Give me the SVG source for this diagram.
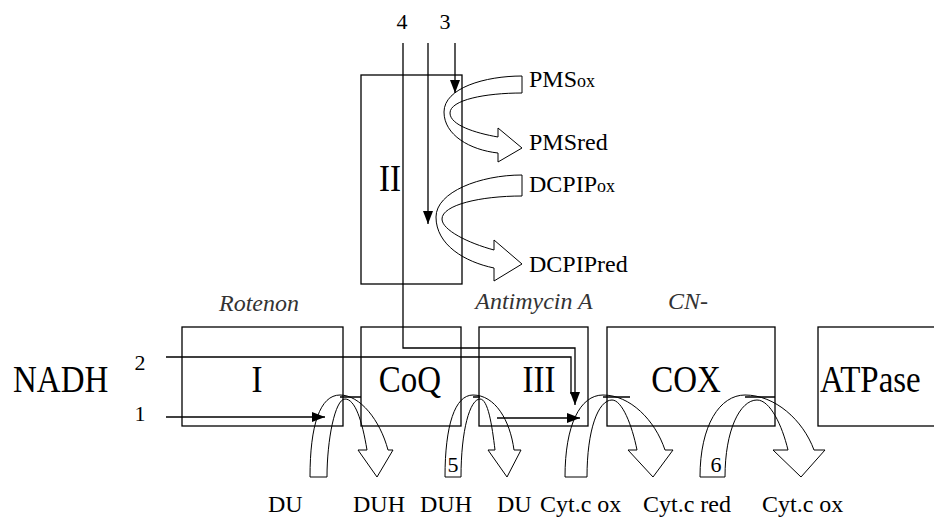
<svg xmlns="http://www.w3.org/2000/svg" width="934" height="518" viewBox="0 0 934 518">
<style>
text{font-family:"Liberation Serif","Noto Serif","DejaVu Serif",FreeSerif,"Nimbus Roman","Nimbus Roman No9 L",Times,Georgia,serif;fill:#000}
.big{font-size:33px}
.c{text-anchor:middle}
.lab{font-size:24px}
.sm{font-size:22px}
.it{font-size:24px;font-style:italic;fill:#333}
.box{fill:none;stroke:#000;stroke-width:1.3}
.ln{fill:none;stroke:#000;stroke-width:1.3}
.blk{fill:none;stroke:#000;stroke-width:1}
.sub{font-size:18px}
</style>
<defs>
<marker id="ah" markerUnits="userSpaceOnUse" markerWidth="13" markerHeight="10" refX="13" refY="5" orient="auto">
<path d="M0,0 L13,5 L0,10 z" fill="#000"/>
</marker>
</defs>
<rect width="934" height="518" fill="#fff"/>

<g id="nadh"><text class="big" transform="translate(13,392) scale(1,1.12)">NADH</text></g>
<g id="complexI"><rect class="box" x="182" y="327" width="161" height="99"/><text class="big c" transform="translate(257,392) scale(1,1.12)">I</text></g>
<g id="coq"><rect class="box" x="361" y="327" width="100" height="99"/><text class="big c" transform="translate(410,392) scale(1,1.12)">CoQ</text></g>
<g id="complexIII"><rect class="box" x="479" y="327" width="109" height="99"/><text class="big c" transform="translate(539,392) scale(1,1.12)">III</text></g>
<g id="cox"><rect class="box" x="607" y="327" width="168" height="99"/><text class="big c" transform="translate(686,392) scale(1,1.12)">COX</text></g>
<g id="atpase"><rect class="box" x="818" y="327" width="130" height="99"/><text class="big" transform="translate(820,392) scale(1,1.12)">ATPase</text></g>
<g id="complexII"><rect class="box" x="361" y="75" width="101" height="209"/><text class="big c" transform="translate(390,191) scale(1,1.12)">II</text></g>

<g id="inhibitors">
<text class="it c" x="259" y="311">Rotenon</text>
<text class="it c" x="534" y="309">Antimycin A</text>
<text class="it c" x="688" y="309">CN-</text>
</g>

<g id="acceptors">
<text class="lab" x="529" y="87">PMS<tspan class="sub">ox</tspan></text>
<text class="lab" x="529" y="150">PMSred</text>
<text class="lab" x="529" y="192">DCPIP<tspan class="sub">ox</tspan></text>
<text class="lab" x="529" y="272">DCPIPred</text>
</g>

<g id="bottom-labels">
<text class="lab" x="268" y="512">DU</text>
<text class="lab" x="353" y="512">DUH</text>
<text class="lab" x="420" y="512">DUH</text>
<text class="lab" x="497" y="512">DU</text>
<text class="lab" x="540" y="512">Cyt.c ox</text>
<text class="lab" x="643" y="512">Cyt.c red</text>
<text class="lab" x="762" y="512">Cyt.c ox</text>
</g>

<g id="path-labels">
<text class="sm c" x="402" y="29">4</text>
<text class="sm c" x="445" y="29">3</text>
<text class="sm c" x="140" y="370">2</text>
<text class="sm c" x="140" y="421">1</text>
<text class="sm c" x="453" y="472">5</text>
<text class="sm c" x="716" y="472">6</text>
</g>

<g id="connectors">
<path class="ln" d="M403,43 V348 H575 V405" marker-end="url(#ah)"/>
<path class="ln" d="M166,357 H571 V394"/>
<path class="ln" d="M166,417 H325" marker-end="url(#ah)"/>
<path class="ln" d="M428,43 V224" marker-end="url(#ah)"/>
<path class="ln" d="M455,43 V93" marker-end="url(#ah)"/>
<path class="ln" d="M497,418 H580" marker-end="url(#ah)"/>
<path class="ln" d="M340,397 H361 M473,397 H480 M603,397 H630 M745,397 H775"/>
<path class="blk" d="M522,76 C485,76 444,88 444,112 C444,135 470,150 498,153 L498,162 L522,148 L498,128 L498,137 C475,133 450,125 450,113 C450,100 485,93 522,93 Z"/>
<path class="blk" d="M522,175 C480,175 436,192 436,217 C436,245 465,262 494,268 L494,281 L522,264 L494,240 L494,250 C468,243 442,230 442,219 C442,205 480,196 522,196 Z"/>
<path class="blk" d="M310,477 C310,425 320,395 340,395 C360,395 380,420 388,450 L393,450 L377,477 L358,450 L367,450 C362,420 355,399 345,399 C335,399 327,440 327,477 Z"/>
<path class="blk" d="M445,477 C445,425 455,395 473,395 C495,395 510,420 514,450 L521,450 L507,477 L488,450 L495,450 C492,425 488,399 480,399 C470,399 461,430 461,477 Z"/>
<path class="blk" d="M565,477 C565,425 580,395 603,395 C630,395 655,420 665,450 L673,450 L653,477 L628,450 L637,450 C632,425 622,400 612,400 C598,400 587,430 587,477 Z"/>
<path class="blk" d="M700,477 C700,425 720,395 745,395 C775,395 803,420 814,450 L825,450 L801,477 L773,450 L788,450 C782,425 770,400 757,400 C740,400 725,430 725,477 Z"/>
</g>
</svg>
